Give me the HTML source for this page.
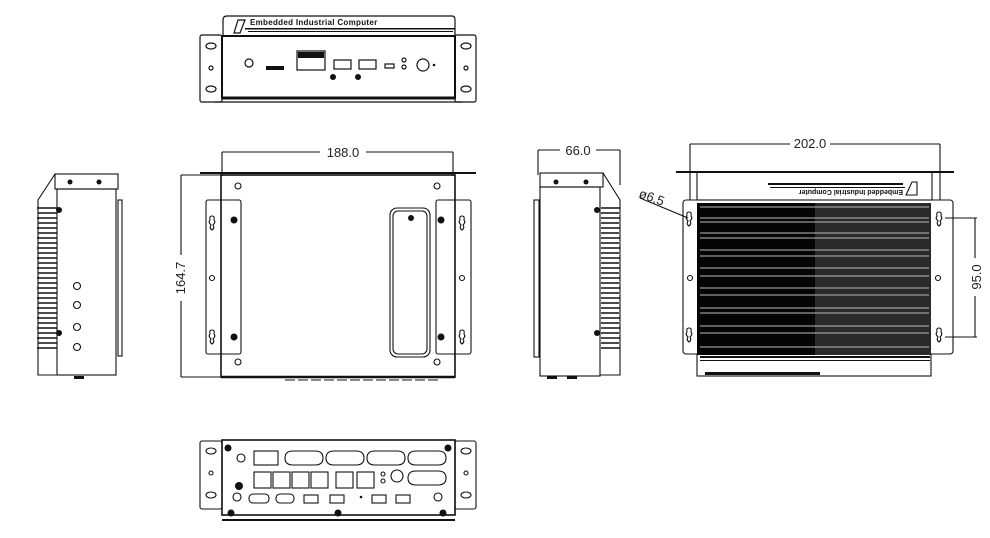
<!DOCTYPE html>
<html><head><meta charset="utf-8"><style>html,body{margin:0;padding:0;background:#fff;}svg{display:block;}</style></head>
<body>
<svg width="990" height="538" viewBox="0 0 990 538" xmlns="http://www.w3.org/2000/svg" font-family="'Liberation Sans',sans-serif">
<g fill="none" stroke="#111" stroke-width="1.2">
<!-- TOP FRONT VIEW -->
<path d="M223,36 L223,20 Q223,16 227,16 L452,16 Q455,16 455,20 L455,36"/>
<path d="M238,20 L245,20 L240,33 L234,33 Z"/>
<rect x="200" y="35" width="22" height="67" rx="2"/>
<rect x="455" y="35" width="21" height="67" rx="2"/>
<rect x="222" y="36" width="233" height="62" stroke-width="2"/>
<line x1="222" y1="98" x2="455" y2="98" stroke-width="3"/>
<line x1="215" y1="102" x2="462" y2="102"/>
<ellipse cx="211" cy="46" rx="5" ry="3"/><circle cx="211" cy="68" r="2"/><ellipse cx="211" cy="89" rx="5" ry="3"/>
<ellipse cx="466" cy="46" rx="5" ry="3"/><circle cx="466" cy="68" r="2"/><ellipse cx="466" cy="89" rx="5" ry="3"/>
<circle cx="249" cy="63" r="4"/>
<rect x="297" y="51" width="28" height="19"/>
<rect x="334" y="60" width="17" height="9"/><rect x="359" y="60" width="17" height="9"/>
<circle cx="423" cy="65" r="6"/><circle cx="404" cy="60" r="2"/><circle cx="404" cy="67" r="2"/>
<rect x="385" y="64" width="9" height="4"/>
</g>
<g fill="#111">
<rect x="266" y="66" width="18" height="4"/>
<circle cx="333" cy="77" r="3"/><circle cx="358" cy="77" r="3"/><circle cx="434" cy="65" r="1.3"/>
<rect x="298" y="52" width="26" height="6"/>
<rect x="245" y="28" width="210" height="1.5"/><rect x="248" y="31" width="205" height="1"/>
</g>
<text x="250" y="25" font-size="8" font-weight="bold" fill="#111" letter-spacing="0.3">Embedded Industrial Computer</text>

<!-- CENTER VIEW -->
<g fill="none" stroke="#111" stroke-width="1.1">
<line x1="222" y1="152" x2="453" y2="152"/>
<line x1="222" y1="152" x2="222" y2="176"/><line x1="453" y1="152" x2="453" y2="176"/>
<line x1="200" y1="173" x2="476" y2="173" stroke-width="2"/>
<rect x="221" y="175" width="234" height="202" stroke-width="1.6"/>
<line x1="221" y1="377" x2="455" y2="377" stroke-width="2.5"/>
<line x1="181" y1="175" x2="181" y2="377"/>
<line x1="181" y1="175" x2="221" y2="175"/><line x1="181" y1="377" x2="221" y2="377"/>
<rect x="206" y="200" width="35" height="154" rx="2"/>
<rect x="436" y="200" width="35" height="154" rx="2"/>
<rect x="390" y="208" width="40" height="149" rx="7"/>
<rect x="393" y="211" width="34" height="143" rx="5"/>
<circle cx="238" cy="186" r="3"/><circle cx="437" cy="186" r="3"/>
<circle cx="238" cy="362" r="3"/><circle cx="437" cy="362" r="3"/>
<circle cx="212" cy="278" r="2.5"/><circle cx="462" cy="278" r="2.5"/>
<path d="M212,216 q3,0 2,4 q2,2 -1,5 q2,3 -1,5 q-3,-2 -1,-5 q-3,-3 -1,-5 q-1,-4 2,-4z"/>
<path d="M212,330 q3,0 2,4 q2,2 -1,5 q2,3 -1,5 q-3,-2 -1,-5 q-3,-3 -1,-5 q-1,-4 2,-4z"/>
<path d="M462,216 q3,0 2,4 q2,2 -1,5 q2,3 -1,5 q-3,-2 -1,-5 q-3,-3 -1,-5 q-1,-4 2,-4z"/>
<path d="M462,330 q3,0 2,4 q2,2 -1,5 q2,3 -1,5 q-3,-2 -1,-5 q-3,-3 -1,-5 q-1,-4 2,-4z"/>
<line x1="285" y1="380" x2="440" y2="380" stroke-dasharray="10 3"/>
</g>
<g fill="#111">
<circle cx="234" cy="220" r="3.5"/><circle cx="441" cy="220" r="3.5"/>
<circle cx="234" cy="337" r="3.5"/><circle cx="441" cy="337" r="3.5"/><circle cx="411" cy="218" r="3"/>
</g>
<rect x="320" y="146" width="46" height="12" fill="#fff"/>
<text x="343" y="157" font-size="13" text-anchor="middle" fill="#222">188.0</text>
<rect x="175" y="255" width="12" height="46" fill="#fff"/>
<text x="0" y="0" font-size="13" text-anchor="middle" fill="#222" transform="translate(185,278) rotate(-90)">164.7</text>

<!-- LEFT SIDE VIEW -->
<g fill="none" stroke="#111" stroke-width="1.1">
<rect x="55" y="174" width="63" height="15"/>
<rect x="57" y="189" width="59" height="186"/>
<rect x="118" y="200" width="4" height="156"/>
<path d="M55,174 L38,200 L38,375 L57,375"/>
<circle cx="77" cy="286" r="3.5"/><circle cx="77" cy="305" r="3.5"/><circle cx="77" cy="327" r="3.5"/><circle cx="77" cy="347" r="3.5"/>
</g>
<g fill="#111">
<circle cx="70" cy="182" r="2.5"/><circle cx="99" cy="182" r="2.5"/>
<circle cx="59" cy="210" r="3"/><circle cx="59" cy="333" r="3"/>
<rect x="74" y="376" width="10" height="3"/>
</g>
<g stroke="#111" stroke-width="1.6">
<path d="M37,208h20M38,213h19M37,218h20M38,223h19M37,228h20M38,233h19M37,238h20M38,243h19M37,248h20M38,253h19M37,258h20M38,263h19M37,268h20M38,273h19M37,278h20M38,283h19M37,288h20M38,293h19M37,298h20M38,303h19M37,308h20M38,313h19M37,318h20M38,323h19M37,328h20M38,333h19M37,338h20M38,343h19M37,348h20"/>
</g>

<!-- RIGHT SIDE VIEW -->
<g fill="none" stroke="#111" stroke-width="1.1">
<line x1="538" y1="150" x2="620" y2="150"/>
<line x1="538" y1="150" x2="538" y2="175"/><line x1="620" y1="150" x2="620" y2="185"/>
<rect x="540" y="173" width="63" height="14"/>
<rect x="540" y="187" width="60" height="189"/>
<rect x="534" y="200" width="5" height="157"/>
<path d="M603,173 L620,200 L620,375 L600,375"/>
</g>
<g fill="#111">
<circle cx="556" cy="182" r="2.5"/><circle cx="586" cy="182" r="2.5"/>
<circle cx="597" cy="210" r="3"/><circle cx="597" cy="333" r="3"/>
<rect x="547" y="376" width="10" height="3"/><rect x="567" y="376" width="10" height="3"/>
</g>
<g stroke="#111" stroke-width="1.6">
<path d="M601,208h19M601,213h18M601,218h19M601,223h18M601,228h19M601,233h18M601,238h19M601,243h18M601,248h19M601,253h18M601,258h19M601,263h18M601,268h19M601,273h18M601,278h19M601,283h18M601,288h19M601,293h18M601,298h19M601,303h18M601,308h19M601,313h18M601,318h19M601,323h18M601,328h19M601,333h18M601,338h19M601,343h18M601,348h19"/>
</g>
<rect x="560" y="144" width="36" height="12" fill="#fff"/>
<text x="578" y="155" font-size="13" text-anchor="middle" fill="#222">66.0</text>

<!-- RIGHT BACK VIEW -->
<g fill="none" stroke="#111" stroke-width="1.1">
<line x1="690" y1="144" x2="940" y2="144"/>
<line x1="690" y1="144" x2="690" y2="200"/><line x1="940" y1="144" x2="940" y2="200"/>
<line x1="676" y1="172" x2="954" y2="172" stroke-width="2"/>
<rect x="697" y="172" width="235" height="28"/>
<rect x="683" y="200" width="270" height="154" rx="3"/>
<rect x="697" y="354" width="234" height="22"/>
<line x1="945" y1="218" x2="977" y2="218"/><line x1="945" y1="337" x2="977" y2="337"/>
<line x1="975" y1="218" x2="975" y2="337"/>
<line x1="640" y1="198" x2="688" y2="218"/>
<circle cx="690" cy="278" r="2.5"/><circle cx="938" cy="278" r="2.5"/>
<path d="M689,212 q3,0 2,4 q2,2 -1,5 q2,3 -1,5 q-3,-2 -1,-5 q-3,-3 -1,-5 q-1,-4 2,-4z"/>
<path d="M689,328 q3,0 2,4 q2,2 -1,5 q2,3 -1,5 q-3,-2 -1,-5 q-3,-3 -1,-5 q-1,-4 2,-4z"/>
<path d="M939,212 q3,0 2,4 q2,2 -1,5 q2,3 -1,5 q-3,-2 -1,-5 q-3,-3 -1,-5 q-1,-4 2,-4z"/>
<path d="M939,328 q3,0 2,4 q2,2 -1,5 q2,3 -1,5 q-3,-2 -1,-5 q-3,-3 -1,-5 q-1,-4 2,-4z"/>
<path d="M912,182 L917,182 L917,195 L906,195 Z"/>
</g>
<rect x="697" y="203" width="118" height="152" fill="#050505"/>
<rect x="815" y="203" width="116" height="152" fill="#2a2a2a"/>
<g stroke="#bbb" stroke-width="1">
<path d="M700,207h229M700,218h229M700,222h229M700,233h229M700,238h229M700,250h229M700,256h229M700,268h229M700,276h229M700,288h229M700,295h229M700,308h229M700,313h229M700,326h229M700,333h229M700,347h229"/>
</g>
<g fill="#111">
<rect x="768" y="183" width="135" height="2"/><rect x="770" y="187" width="135" height="1"/>
<rect x="700" y="356" width="230" height="2"/><rect x="700" y="360" width="230" height="1"/>
<rect x="705" y="372" width="115" height="3"/>
</g>
<text x="0" y="0" font-size="7" font-weight="bold" fill="#111" transform="translate(903,190) rotate(180)">Embedded Industrial Computer</text>
<rect x="790" y="138" width="40" height="12" fill="#fff"/>
<text x="810" y="148" font-size="13" text-anchor="middle" fill="#222">202.0</text>
<rect x="968" y="258" width="14" height="38" fill="#fff"/>
<text x="0" y="0" font-size="13" text-anchor="middle" fill="#222" transform="translate(981,277) rotate(-90)">95.0</text>
<text x="0" y="0" font-size="13" fill="#222" transform="translate(638,197) rotate(20)">ø6.5</text>

<!-- BOTTOM VIEW -->
<g fill="none" stroke="#111" stroke-width="1.1">
<rect x="200" y="441" width="22" height="68" rx="2"/>
<rect x="455" y="441" width="21" height="68" rx="2"/>
<rect x="222" y="440" width="233" height="75" stroke-width="1.6"/>
<line x1="222" y1="520" x2="455" y2="520" stroke-width="2"/>
<ellipse cx="211" cy="451" rx="5" ry="3"/><circle cx="211" cy="473" r="2"/><ellipse cx="211" cy="495" rx="5" ry="3"/>
<ellipse cx="466" cy="451" rx="5" ry="3"/><circle cx="466" cy="473" r="2"/><ellipse cx="466" cy="495" rx="5" ry="3"/>
<circle cx="241" cy="458" r="4"/><circle cx="237" cy="497" r="4"/><circle cx="438" cy="497" r="4"/>
<rect x="254" y="451" width="24" height="14"/>
<path d="M285,458 q0,-7 8,-7 h22 q8,0 8,7 q0,7 -8,7 h-22 q-8,0 -8,-7z"/>
<path d="M326,458 q0,-7 8,-7 h22 q8,0 8,7 q0,7 -8,7 h-22 q-8,0 -8,-7z"/>
<path d="M367,458 q0,-7 8,-7 h22 q8,0 8,7 q0,7 -8,7 h-22 q-8,0 -8,-7z"/>
<path d="M408,458 q0,-7 8,-7 h22 q8,0 8,7 q0,7 -8,7 h-22 q-8,0 -8,-7z"/>
<path d="M408,478 q0,-7 8,-7 h22 q8,0 8,7 q0,7 -8,7 h-22 q-8,0 -8,-7z"/>
<rect x="254" y="472" width="17" height="16"/><rect x="273" y="472" width="17" height="16"/><rect x="292" y="472" width="17" height="16"/><rect x="311" y="472" width="17" height="16"/>
<rect x="336" y="472" width="17" height="16"/><rect x="357" y="472" width="17" height="16"/>
<circle cx="397" cy="476" r="6"/><circle cx="383" cy="474" r="2"/><circle cx="383" cy="481" r="2"/>
<rect x="249" y="494" width="20" height="9" rx="4"/><rect x="276" y="494" width="18" height="9" rx="4"/>
<rect x="304" y="495" width="14" height="8"/><rect x="330" y="495" width="14" height="8"/>
<rect x="372" y="495" width="14" height="8"/><rect x="396" y="495" width="14" height="8"/>
</g>
<g fill="#111">
<circle cx="228" cy="448" r="3.5"/><circle cx="448" cy="448" r="3.5"/>
<circle cx="231" cy="513" r="3.5"/><circle cx="338" cy="513" r="3.5"/><circle cx="443" cy="513" r="3.5"/>
<circle cx="239" cy="486" r="4"/><circle cx="361" cy="497" r="1.3"/>
</g>
</svg>
</body></html>
